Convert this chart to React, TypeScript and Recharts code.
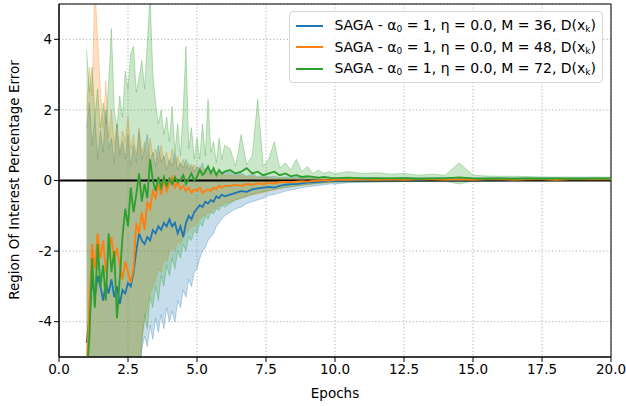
import {
  Area,
  ComposedChart,
  CartesianGrid,
  Line,
  ReferenceArea,
  ReferenceLine,
  XAxis,
  YAxis,
} from "recharts";

const FONT = "DejaVu Sans, sans-serif";

// epochs: dense at the start, coarser later
const EPOCHS_EARLY = [
  1.0, 1.1, 1.2, 1.3, 1.4, 1.5, 1.6, 1.7, 1.8, 1.9,
  2.0, 2.1, 2.2, 2.3, 2.4, 2.5, 2.6, 2.7, 2.8, 2.9,
  3.0, 3.1, 3.2, 3.3, 3.4, 3.5, 3.6, 3.7, 3.8, 3.9,
  4.0, 4.1, 4.2, 4.3, 4.4, 4.5, 4.6, 4.7, 4.8, 4.9,
  5.0, 5.1, 5.2, 5.3, 5.4, 5.5, 5.6, 5.7, 5.8, 5.9,
  6.0,
];
const EPOCHS_MID = [6.2, 6.4, 6.6, 6.8, 7.0, 7.2, 7.4, 7.6, 7.8, 8.0, 8.2, 8.4, 8.6, 8.8, 9.0, 9.2, 9.4, 9.6, 9.8, 10.0];
const EPOCHS_LATE = [10.5, 11, 11.5, 12, 12.5, 13, 13.5, 14, 14.5, 15, 15.5, 16, 16.5, 17, 17.5, 18, 18.5, 19, 19.5, 20];
const EPOCHS = [...EPOCHS_EARLY, ...EPOCHS_MID, ...EPOCHS_LATE];

// M = 36 (blue)
const M36_MEAN = [
  -4.6, -3.9, -2.8, -3.3, -2.7, -3.0, -3.4, -2.9, -3.2, -2.8,
  -3.3, -3.0, -3.5, -3.1, -3.2, -2.9, -3.0, -2.6, -2.0, -1.5,
  -1.7, -1.8, -1.6, -1.7, -1.4, -1.5, -1.3, -1.4, -1.2, -1.3,
  -1.1, -1.3, -1.2, -1.5, -1.3, -1.6, -1.2, -1.0, -1.1, -0.9,
  -0.8, -0.7, -0.75, -0.6, -0.65, -0.55, -0.6, -0.45, -0.5, -0.4,
  -0.45,
  -0.4, -0.35, -0.3, -0.32, -0.25, -0.22, -0.2, -0.18, -0.2, -0.15, -0.12, -0.1, -0.1, -0.08, -0.06, -0.05, -0.04, -0.03, -0.02, -0.02,
  0.0, 0.01, 0.02, 0.02, 0.03, 0.02, 0.03, 0.03, 0.02, 0.03, 0.03, 0.04, 0.03, 0.04, 0.04, 0.03, 0.04, 0.04, 0.04, 0.04,
];
const M36_HI = [
  1.5, 2.2, 1.0, 1.8, 0.6, 1.4, 0.8, 2.0, 0.9, 1.2,
  0.5, 1.6, 0.7, 1.1, 0.6, 1.3, 0.4, 1.0, 0.5, 1.4,
  0.6, 0.9, 1.3, 0.5, 0.8, 0.4, 1.0, 0.5, 0.7, 0.3,
  0.6, 0.4, 0.8, 0.3, 0.5, 0.35, 0.6, 0.3, 0.45, 0.25,
  0.4, 0.3, 0.5, 0.2, 0.35, 0.25, 0.3, 0.2, 0.3, 0.15,
  0.25,
  0.25, 0.15, 0.2, 0.12, 0.18, 0.1, 0.15, 0.1, 0.12, 0.08, 0.1, 0.08, 0.1, 0.07, 0.08, 0.06, 0.07, 0.06, 0.06, 0.05,
  0.08, 0.09, 0.08, 0.08, 0.09, 0.08, 0.08, 0.09, 0.08, 0.08, 0.09, 0.08, 0.08, 0.08, 0.09, 0.08, 0.08, 0.08, 0.08, 0.08,
];
const M36_LO = [
  -6, -6, -6, -6, -6, -6, -6, -6, -6, -6,
  -6, -6, -6, -6, -6, -6, -6, -6, -6, -6,
  -4.8, -4.4, -4.7, -4.1, -4.5, -3.9, -4.3, -3.8, -4.2, -3.6,
  -4.0, -3.7, -4.0, -3.4, -3.6, -3.1, -3.3, -2.8, -3.0, -2.6,
  -2.5, -2.2, -2.0, -1.9, -1.7, -1.6, -1.5, -1.3, -1.2, -1.1,
  -1.0,
  -0.9, -0.8, -0.75, -0.65, -0.6, -0.55, -0.5, -0.42, -0.4, -0.35, -0.3, -0.27, -0.24, -0.2, -0.18, -0.16, -0.14, -0.12, -0.1, -0.1,
  -0.06, -0.05, -0.04, -0.04, -0.03, -0.03, -0.03, -0.02, -0.03, -0.02, -0.02, -0.02, -0.01, -0.01, -0.01, -0.01, 0.0, 0.0, 0.0, 0.0,
];

// M = 48 (orange)
const M48_MEAN = [
  -5.5, -3.5, -1.8, -2.5, -1.5, -2.2, -1.7, -2.6, -2.0, -1.6,
  -2.3, -1.9, -2.4, -2.8, -2.3, -2.6, -2.9, -2.5, -1.2, -1.5,
  -0.9, -1.4, -0.6, -0.8, -0.3, -0.5, -0.1, -0.4, 0.05, -0.3,
  -0.1, 0.1, -0.2, -0.05, -0.25, -0.15, -0.3, -0.2, -0.35, -0.25,
  -0.3, -0.2, -0.35, -0.3, -0.25, -0.3, -0.2, -0.25, -0.15, -0.2,
  -0.15,
  -0.15, -0.12, -0.15, -0.1, -0.12, -0.08, -0.1, -0.06, -0.08, -0.05, -0.04, -0.05, -0.03, -0.02, -0.03, -0.01, 0.0, 0.01, 0.0, 0.02,
  0.02, 0.03, 0.02, 0.03, 0.02, 0.03, 0.03, 0.02, 0.03, 0.02, 0.03, 0.03, 0.02, 0.03, 0.03, 0.02, 0.03, 0.03, 0.03, 0.03,
];
const M48_HI = [
  2.0, 3.2, 2.4, 5.5, 4.0, 2.6, 1.5, 2.8, 1.2, 2.0,
  1.0, 1.6, 0.8, 1.4, 1.1, 1.8, 0.9, 1.3, 0.7, 1.5,
  0.8, 1.1, 0.6, 1.2, 0.7, 0.9, 0.5, 1.0, 0.6, 0.8,
  0.4, 0.9, 0.5, 0.7, 0.4, 0.6, 0.35, 0.5, 0.3, 0.45,
  0.3, 0.4, 0.25, 0.35, 0.2, 0.3, 0.2, 0.25, 0.15, 0.2,
  0.15,
  0.15, 0.12, 0.15, 0.1, 0.12, 0.08, 0.1, 0.08, 0.07, 0.06, 0.07, 0.05, 0.06, 0.05, 0.05, 0.05, 0.04, 0.05, 0.04, 0.05,
  0.06, 0.06, 0.05, 0.06, 0.05, 0.06, 0.06, 0.05, 0.06, 0.05, 0.06, 0.06, 0.05, 0.06, 0.06, 0.05, 0.06, 0.06, 0.06, 0.06,
];
const M48_LO = [
  -6, -6, -6, -6, -6, -6, -6, -6, -6, -6,
  -6, -6, -6, -6, -6, -6, -6, -6, -6, -5.2,
  -4.5, -4.0, -3.6, -3.2, -3.0, -2.8, -2.5, -2.6, -2.2, -2.3,
  -2.0, -1.9, -2.0, -1.7, -1.8, -1.6, -1.5, -1.4, -1.3, -1.3,
  -1.2, -1.1, -1.0, -1.0, -0.9, -0.9, -0.8, -0.8, -0.7, -0.7,
  -0.65,
  -0.6, -0.55, -0.5, -0.45, -0.4, -0.38, -0.34, -0.3, -0.27, -0.24, -0.2, -0.18, -0.16, -0.14, -0.12, -0.1, -0.08, -0.07, -0.06, -0.05,
  -0.03, -0.02, -0.02, -0.02, -0.01, -0.01, -0.01, 0.0, -0.01, 0.0, 0.0, 0.0, 0.0, 0.0, 0.0, 0.0, 0.0, 0.0, 0.0, 0.0,
];

// M = 72 (green)
const M72_MEAN = [
  -5.5, -4.5, -2.2, -3.6, -1.8, -3.0, -2.4, -3.4, -1.5, -2.6,
  -2.0, -3.9, -2.8, -1.6, -0.8, -1.3, -0.2, -0.9, -0.4, 0.2,
  -0.6, -0.1, -0.5, 0.6, 0.0, -0.3, 0.1, -0.2, 0.1, -0.15,
  0.05, -0.1, 0.1, -0.05, 0.0, 0.15, -0.1, 0.05, 0.2, 0.0,
  0.1, 0.3, 0.15, 0.25, 0.4, 0.2, 0.35, 0.15, 0.3, 0.2,
  0.25,
  0.3, 0.2, 0.25, 0.35, 0.2, 0.25, 0.15, 0.2, 0.25, 0.15, 0.2, 0.12, 0.15, 0.1, 0.12, 0.1, 0.08, 0.1, 0.08, 0.07,
  0.08, 0.06, 0.07, 0.06, 0.07, 0.05, 0.06, 0.06, 0.09, 0.06, 0.05, 0.06, 0.05, 0.06, 0.05, 0.06, 0.05, 0.05, 0.06, 0.05,
];
const M72_HI = [
  3.7, 2.5, 3.2, 1.8, 2.6, 1.5, 2.2, 1.6, 2.8, 4.3,
  2.0, 1.5, 2.4, 1.8, 3.1, 2.6, 3.6, 3.8, 2.5, 2.9,
  3.4, 2.6, 3.9, 5.2, 3.0, 2.2, 1.6, 2.0, 1.3, 1.8,
  1.1, 2.1, 0.8, 1.6, 0.7, 2.0, 3.8, 0.9, 1.5, 0.6,
  1.2, 0.6, 1.6, 0.7, 2.3, 0.8, 1.1, 0.5, 1.2, 0.6,
  1.0,
  0.9, 0.4, 1.3, 0.45, 0.7, 2.3, 0.4, 0.6, 1.1, 0.35, 0.5, 0.3, 0.6, 0.25, 0.4, 0.2, 0.3, 0.2, 0.25, 0.2,
  0.25, 0.2, 0.22, 0.18, 0.2, 0.15, 0.18, 0.15, 0.5, 0.15, 0.13, 0.12, 0.12, 0.11, 0.1, 0.1, 0.1, 0.1, 0.1, 0.1,
];
const M72_LO = [
  -6, -6, -6, -6, -6, -6, -6, -6, -6, -6,
  -6, -6, -6, -6, -6, -6, -6, -6, -6, -6,
  -4.6, -3.8, -4.2, -3.3, -3.6, -3.0, -3.4, -2.7, -3.0, -2.4,
  -2.7, -2.2, -2.5, -2.0, -2.2, -1.8, -2.0, -1.6, -1.7, -1.4,
  -1.5, -1.2, -1.3, -1.0, -1.1, -0.9, -0.95, -0.8, -0.85, -0.7,
  -0.75,
  -0.65, -0.55, -0.5, -0.45, -0.4, -0.35, -0.32, -0.28, -0.25, -0.22, -0.2, -0.18, -0.15, -0.13, -0.12, -0.1, -0.08, -0.07, -0.06, -0.05,
  -0.05, -0.04, -0.04, -0.03, -0.03, -0.02, -0.02, -0.02, -0.1, -0.02, -0.01, 0.0, 0.0, 0.0, 0.0, 0.0, 0.0, 0.0, 0.0, 0.0,
];

const X_TICKS = [0, 2.5, 5, 7.5, 10, 12.5, 15, 17.5, 20];
const Y_TICKS = [-4, -2, 0, 2, 4];

const SERIES = [
  { key: "m36", label: "36", color: "#1f77b4" },
  { key: "m48", label: "48", color: "#ff7f0e" },
  { key: "m72", label: "72", color: "#2ca02c" },
];

const data = EPOCHS.map((x, i) => ({
  x,
  m36: M36_MEAN[i],
  m36Band: [M36_LO[i], M36_HI[i]],
  m48: M48_MEAN[i],
  m48Band: [M48_LO[i], M48_HI[i]],
  m72: M72_MEAN[i],
  m72Band: [M72_LO[i], M72_HI[i]],
}));

const tickStyle = { fill: "#000", fontSize: 13.5, fontFamily: FONT };
const subStyle = { fontSize: 9, verticalAlign: "-2px" };

export default function App() {
  return (
    <div style={{ position: "absolute", left: 0, top: 0, width: 626, height: 406, background: "#fff" }}>
      <ComposedChart width={626} height={406} data={data} margin={{ top: 4, right: 15, left: 19, bottom: 19 }}>
        <CartesianGrid stroke="#b0b0b0" strokeDasharray="1.2 2.2" />
        <XAxis
          dataKey="x"
          type="number"
          domain={[0, 20]}
          ticks={X_TICKS}
          tickFormatter={(v) => v.toFixed(1)}
          tick={tickStyle}
          tickSize={5}
          tickLine={{ stroke: "#000" }}
          axisLine={{ stroke: "#000" }}
          height={30}
          allowDataOverflow
        />
        <YAxis
          type="number"
          domain={[-5, 5]}
          ticks={Y_TICKS}
          tick={tickStyle}
          tickSize={5}
          tickLine={{ stroke: "#000" }}
          axisLine={{ stroke: "#000" }}
          width={40}
          allowDataOverflow
        />
        {SERIES.map((s) => (
          <Area
            key={s.key + "Band"}
            dataKey={s.key + "Band"}
            type="linear"
            stroke={s.color}
            strokeOpacity={0.3}
            strokeWidth={1}
            fill={s.color}
            fillOpacity={0.25}
            isAnimationActive={false}
          />
        ))}
        <ReferenceLine y={0} stroke="#000" strokeWidth={1.8} />
        {SERIES.map((s) => (
          <Line
            key={s.key}
            dataKey={s.key}
            type="linear"
            stroke={s.color}
            strokeWidth={1.8}
            dot={false}
            isAnimationActive={false}
          />
        ))}
        <ReferenceArea x1={0} x2={20} y1={-5} y2={5} fill="none" stroke="#000" strokeWidth={1} />
      </ComposedChart>

      {/* legend, matplotlib style, upper right */}
      <div
        style={{
          position: "absolute",
          left: 289,
          top: 11,
          width: 314,
          height: 72,
          boxSizing: "border-box",
          border: "1px solid #d5d5d5",
          borderRadius: 4,
          background: "rgba(255,255,255,0.85)",
          padding: "3px 6px",
          fontFamily: FONT,
          fontSize: 14,
          color: "#000",
        }}
      >
        {SERIES.map((s) => (
          <div key={s.key} style={{ display: "flex", alignItems: "center", height: 21.5 }}>
            <span style={{ display: "inline-block", width: 29, height: 2, background: s.color, marginRight: 11 }} />
            <span style={{ whiteSpace: "nowrap" }}>
              SAGA - α<span style={subStyle}>0</span> = 1, η = 0.0, M = {s.label}, D(x
              <span style={subStyle}>k</span>)
            </span>
          </div>
        ))}
      </div>

      <div
        style={{
          position: "absolute",
          left: 335,
          top: 393,
          transform: "translate(-50%, -50%)",
          fontFamily: FONT,
          fontSize: 13.5,
          whiteSpace: "nowrap",
        }}
      >
        Epochs
      </div>
      <div
        style={{
          position: "absolute",
          left: 14,
          top: 180,
          transform: "translate(-50%, -50%) rotate(-90deg)",
          fontFamily: FONT,
          fontSize: 13.5,
          whiteSpace: "nowrap",
        }}
      >
        Region Of Interest Percentage Error
      </div>
    </div>
  );
}
